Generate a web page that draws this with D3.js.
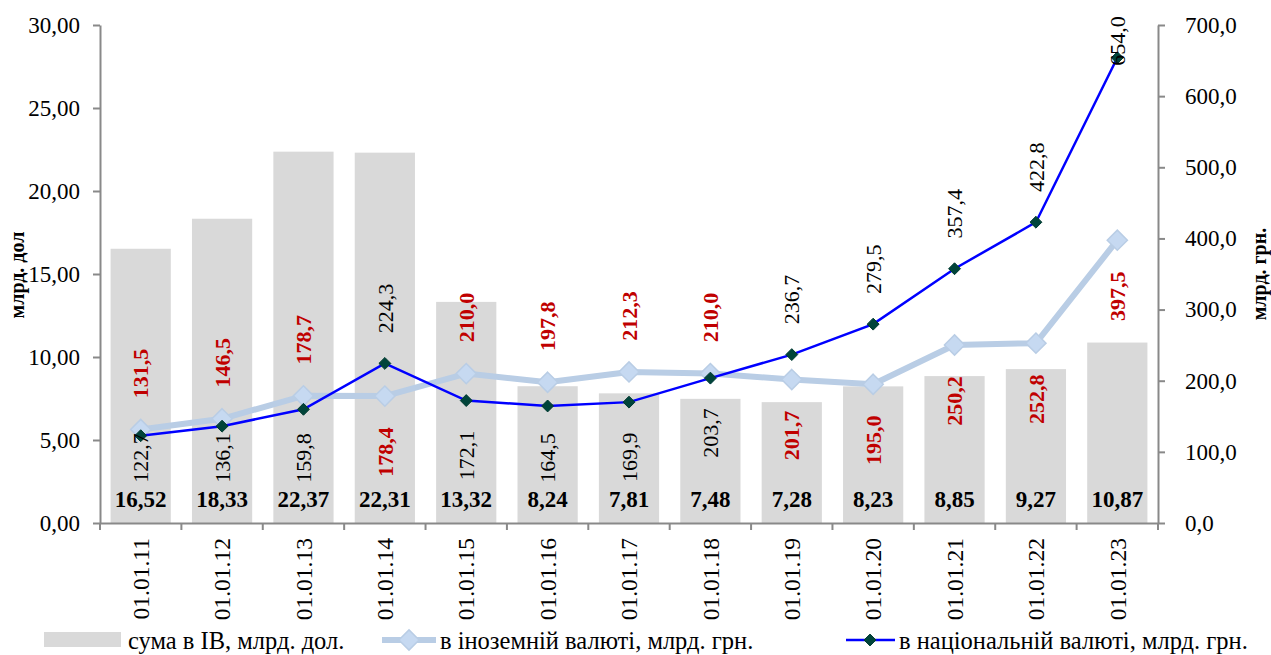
<!DOCTYPE html>
<html>
<head>
<meta charset="utf-8">
<script src="https://cdn.jsdelivr.net/npm/d3@7"></script>
<style>
  html, body { margin: 0; padding: 0; background: #ffffff; }
  svg { display: block; }
  svg text { font-family: "Liberation Serif", "Times New Roman", serif; }
</style>
</head>
<body>
<svg id="chart" width="1271" height="655"></svg>
<script>
// ---- data ----
const categories = ["01.01.11","01.01.12","01.01.13","01.01.14","01.01.15","01.01.16","01.01.17","01.01.18","01.01.19","01.01.20","01.01.21","01.01.22","01.01.23"];
const barValues = [16.52, 18.33, 22.37, 22.31, 13.32, 8.24, 7.81, 7.48, 7.28, 8.23, 8.85, 9.27, 10.87];
const foreignValues = [131.5, 146.5, 178.7, 178.4, 210.0, 197.8, 212.3, 210.0, 201.7, 195.0, 250.2, 252.8, 397.5];
const nationalValues = [122.7, 136.1, 159.8, 224.3, 172.1, 164.5, 169.9, 203.7, 236.7, 279.5, 357.4, 422.8, 654.0];
const leftTicks = [0, 5, 10, 15, 20, 25, 30];
const rightTicks = [0, 100, 200, 300, 400, 500, 600, 700];
const seriesNames = ["сума в ІВ, млрд. дол.", "в іноземній валюті, млрд. грн.", "в національній валюті, млрд. грн."];
const leftTitle = "млрд. дол";
const rightTitle = "млрд. грн.";
// label placement relative to the point (1 = above, -1 = below)
const foreignLabelSide = [1, 1, 1, -1, 1, 1, 1, 1, -1, -1, -1, -1, -1];
const nationalLabelSide = [-1, -1, -1, 1, -1, -1, -1, -1, 1, 1, 1, 1, 1];

// ---- setup ----
const FONT = "Liberation Serif";
const svg = d3.select("#chart");
const locale = d3.formatLocale({decimal: ",", thousands: " ", grouping: [3], currency: ["", ""]});
const f2 = locale.format(".2f");
const f1 = locale.format(".1f");

const plotLeft = 100, plotRight = 1158, plotTop = 25, plotBottom = 523;
const x = d3.scaleBand().domain(categories).range([plotLeft, plotRight]).padding(0);
const yL = d3.scaleLinear().domain([0, 30]).range([plotBottom, plotTop]);
const yR = d3.scaleLinear().domain([0, 700]).range([plotBottom, plotTop]);
const bw = x.bandwidth() * 0.74;
const cx = c => x(c) + x.bandwidth() / 2;
const axisColor = "#898989";

// ---- bars ----
svg.append("g").selectAll("rect").data(categories).join("rect")
  .attr("x", c => cx(c) - bw / 2)
  .attr("width", bw)
  .attr("y", (c, i) => yL(barValues[i]))
  .attr("height", (c, i) => yL(0) - yL(barValues[i]))
  .attr("fill", "#d9d9d9");

// ---- axes ----
const gL = svg.append("g").attr("transform", `translate(${plotLeft},0)`)
  .call(d3.axisLeft(yL).tickValues(leftTicks).tickFormat(f2).tickSize(7).tickSizeOuter(0).tickPadding(13));
const gR = svg.append("g").attr("transform", `translate(${plotRight},0)`)
  .call(d3.axisRight(yR).tickValues(rightTicks).tickFormat(f1).tickSize(7).tickSizeOuter(0).tickPadding(20));
const gB = svg.append("g").attr("transform", `translate(0,${plotBottom})`)
  .call(d3.axisBottom(x).tickSize(0).tickSizeOuter(0).tickFormat(""));
[gL, gR, gB].forEach(g => {
  g.attr("font-family", FONT);
  g.select(".domain").attr("stroke", axisColor).attr("stroke-width", 2);
  g.selectAll(".tick line").attr("stroke", axisColor).attr("stroke-width", 2);
  g.selectAll("text").attr("font-family", FONT).attr("font-size", 23).attr("fill", "#000");
});
// category boundary ticks
const boundaries = categories.map(c => x(c)).concat([x.range()[1]]);
svg.append("g").selectAll("line").data(boundaries).join("line")
  .attr("x1", d => d).attr("x2", d => d)
  .attr("y1", plotBottom).attr("y2", plotBottom + 7)
  .attr("stroke", axisColor).attr("stroke-width", 2);
// category labels
svg.append("g").selectAll("text").data(categories).join("text")
  .attr("transform", c => `translate(${cx(c)},538) rotate(-90)`)
  .attr("text-anchor", "end").attr("dy", "0.35em")
  .attr("font-family", FONT).attr("font-size", 23.5).text(c => c);

// axis titles
svg.append("text").attr("transform", "translate(17,275) rotate(-90)")
  .attr("text-anchor", "middle").attr("dy", "0.35em")
  .attr("font-family", FONT).attr("font-size", 20).attr("font-weight", "bold").text(leftTitle);
svg.append("text").attr("transform", "translate(1259,274) rotate(-90)")
  .attr("text-anchor", "middle").attr("dy", "0.35em")
  .attr("font-family", FONT).attr("font-size", 20).attr("font-weight", "bold").text(rightTitle);

// ---- lines ----
const lineF = d3.line().x((d, i) => cx(categories[i])).y(d => yR(d));
const diamond = d3.symbol().type(d3.symbolDiamond2);

svg.append("path").datum(foreignValues).attr("d", lineF)
  .attr("fill", "none").attr("stroke", "#b9cde5").attr("stroke-width", 6).attr("stroke-linejoin", "round");
svg.append("g").selectAll("path").data(foreignValues).join("path")
  .attr("transform", (d, i) => `translate(${cx(categories[i])},${yR(d)})`)
  .attr("d", diamond.size(260)())
  .attr("fill", "#c6d9f1").attr("stroke", "#b9cde5").attr("stroke-width", 1.5);

svg.append("path").datum(nationalValues).attr("d", lineF)
  .attr("fill", "none").attr("stroke", "#0000ff").attr("stroke-width", 2.5);
svg.append("g").selectAll("path").data(nationalValues).join("path")
  .attr("transform", (d, i) => `translate(${cx(categories[i])},${yR(d)})`)
  .attr("d", diamond.size(90)())
  .attr("fill", "#00443a").attr("stroke", "#003a30").attr("stroke-width", 1);

// ---- data labels ----
const clampY = v => Math.max(41, Math.min(458, v));
svg.append("g").selectAll("text").data(foreignValues).join("text")
  .attr("transform", (d, i) => `translate(${cx(categories[i])},${clampY(yR(d) - foreignLabelSide[i] * 56)}) rotate(-90)`)
  .attr("text-anchor", "middle").attr("dy", "0.35em")
  .attr("font-family", FONT).attr("font-size", 22).attr("font-weight", "bold").attr("fill", "#c00000")
  .text(d => f1(d));
svg.append("g").selectAll("text").data(nationalValues).join("text")
  .attr("transform", (d, i) => `translate(${cx(categories[i])},${clampY(yR(d) - nationalLabelSide[i] * 55)}) rotate(-90)`)
  .attr("text-anchor", "middle").attr("dy", "0.35em")
  .attr("font-family", FONT).attr("font-size", 22).attr("fill", "#000")
  .text(d => f1(d));
svg.append("g").selectAll("text").data(barValues).join("text")
  .attr("x", (d, i) => cx(categories[i])).attr("y", 507)
  .attr("text-anchor", "middle")
  .attr("font-family", FONT).attr("font-size", 23).attr("font-weight", "bold").attr("fill", "#000")
  .text(d => f2(d));

// ---- legend ----
const lg = svg.append("g").attr("font-family", FONT);
const ly = 640;
lg.append("rect").attr("x", 44).attr("y", ly - 8).attr("width", 77).attr("height", 15).attr("fill", "#d9d9d9");
lg.append("text").attr("x", 128).attr("y", ly).attr("dy", "0.35em").attr("font-family", FONT).attr("font-size", 24.5).text(seriesNames[0]);
lg.append("line").attr("x1", 382).attr("x2", 436).attr("y1", ly).attr("y2", ly).attr("stroke", "#b9cde5").attr("stroke-width", 6);
lg.append("path").attr("transform", `translate(409,${ly})`).attr("d", diamond.size(260)())
  .attr("fill", "#c6d9f1").attr("stroke", "#b9cde5").attr("stroke-width", 1.5);
lg.append("text").attr("x", 440).attr("y", ly).attr("dy", "0.35em").attr("font-family", FONT).attr("font-size", 24.5).text(seriesNames[1]);
lg.append("line").attr("x1", 846).attr("x2", 895).attr("y1", ly).attr("y2", ly).attr("stroke", "#0000ff").attr("stroke-width", 2.5);
lg.append("path").attr("transform", `translate(870,${ly})`).attr("d", diamond.size(90)())
  .attr("fill", "#00443a").attr("stroke", "#003a30").attr("stroke-width", 1);
lg.append("text").attr("x", 899).attr("y", ly).attr("dy", "0.35em").attr("font-family", FONT).attr("font-size", 24.5).text(seriesNames[2]);
</script>
</body>
</html>
